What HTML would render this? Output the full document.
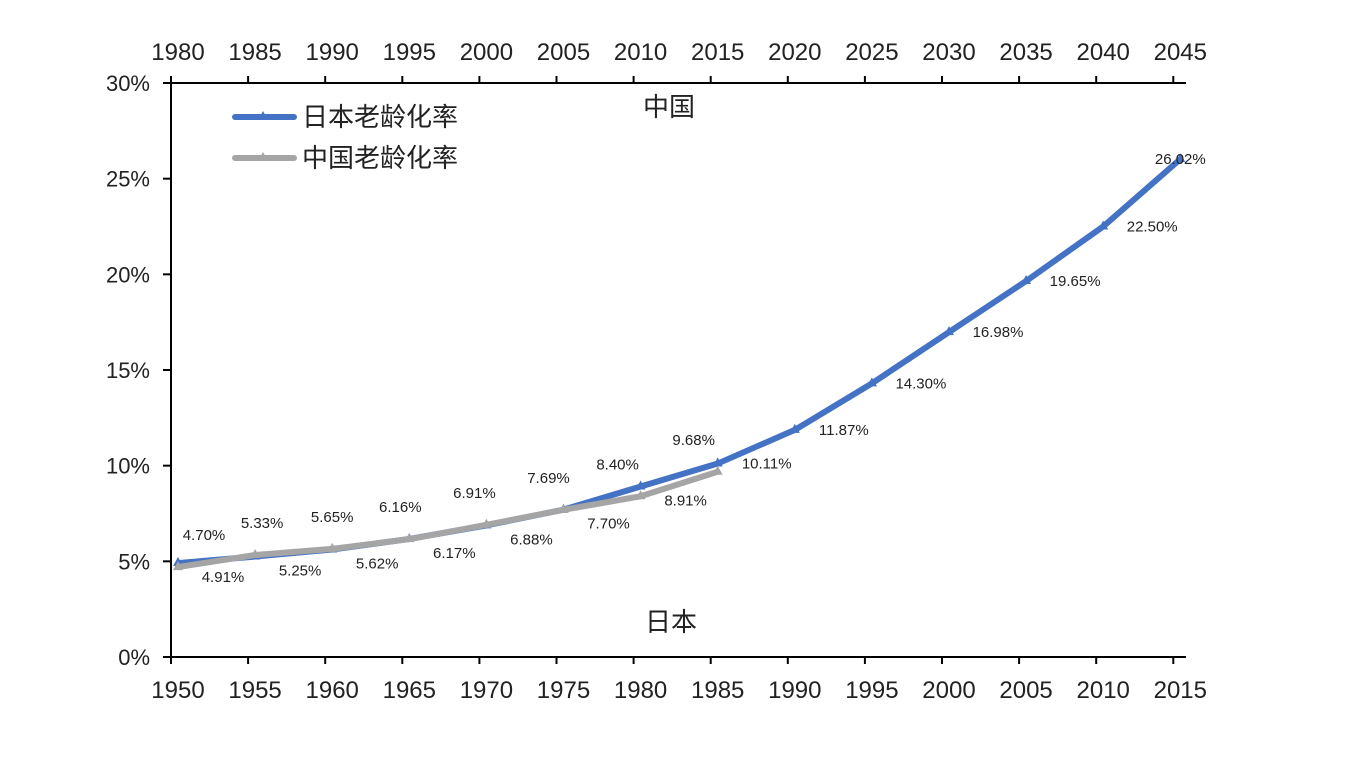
<!DOCTYPE html>
<html><head><meta charset="utf-8"><style>
body{margin:0;background:#fff;}
text{font-family:"Liberation Sans","Noto Sans CJK SC",sans-serif;}
</style></head><body>
<svg id="c" width="1345" height="761"></svg>
<script>
const bottomYears=["1950","1955","1960","1965","1970","1975","1980","1985","1990","1995","2000","2005","2010","2015"];
const topYears=["1980","1985","1990","1995","2000","2005","2010","2015","2020","2025","2030","2035","2040","2045"];
const japan=[4.91,5.25,5.62,6.17,6.88,7.70,8.91,10.11,11.87,14.30,16.98,19.65,22.50,26.02];
const china=[4.70,5.33,5.65,6.16,6.91,7.69,8.40,9.68];
const yTicks=[0,5,10,15,20,25,30];
const NS="http://www.w3.org/2000/svg";
const svg=document.getElementById('c');
const L=171,R=1186,T=83,B=657,STEP=77.1;
const xT=i=>L+STEP*i;
const xP=i=>L+7+STEP*i;
const y=v=>B-(v/30)*(B-T);
function el(tag,attrs,parent){const e=document.createElementNS(NS,tag);for(const k in attrs)e.setAttribute(k,attrs[k]);(parent||svg).appendChild(e);return e;}
function txt(s,x,yy,size,anchor,fill){const t=el('text',{x:x,y:yy,'font-size':size,'text-anchor':anchor||'middle',fill:fill||'#222'});t.textContent=s;return t;}
// axes
let a=el('line',{x1:L,y1:B,x2:R,y2:B,stroke:'#000','stroke-width':2});

a=el('line',{x1:L,y1:T,x2:R,y2:T,stroke:'#000','stroke-width':2});

a=el('line',{x1:L,y1:T,x2:L,y2:B,stroke:'#000','stroke-width':2});

bottomYears.forEach((s,i)=>{
 el('line',{x1:xT(i),y1:B,x2:xT(i),y2:B+7,stroke:'#000','stroke-width':2});
 const t=txt(s,xP(i),698,24);
 
});
topYears.forEach((s,i)=>{
 el('line',{x1:xT(i),y1:T,x2:xT(i),y2:T-7,stroke:'#000','stroke-width':2});
 const t=txt(s,xP(i),60,24);
 
});
yTicks.forEach(v=>{
 el('line',{x1:L-8,y1:y(v),x2:L,y2:y(v),stroke:'#000','stroke-width':2});
 const t=txt(v+'%',150,y(v)+8,22,'end');
 
});
function series(vals,color,name){
 const p=el('polyline',{points:vals.map((v,i)=>xP(i)+','+y(v)).join(' '),fill:'none',stroke:color,'stroke-width':6,'stroke-linejoin':'round'});
 
 vals.forEach((v,i)=>{
  const m=el('polygon',{points:`${xP(i)},${y(v)-6} ${xP(i)-5},${y(v)+3} ${xP(i)+5},${y(v)+3}`,fill:color});
  
 });
}
series(japan,'#4472c4','japan');
series(china,'#a5a5a5','china');
const cdx=[26,7,0,-9,-12,-15,-23,-24];
china.forEach((v,i)=>{
 const t=txt(v.toFixed(2)+'%',xP(i)+cdx[i],y(v)-27,15);
 
});
japan.forEach((v,i)=>{
 let dx=45,dy=14;
 if(i>=7){dx=49;dy=0;}
 if(i==13){dx=0;dy=0;}
 const t=txt(v.toFixed(2)+'%',xP(i)+dx,y(v)+dy+5,15);
 
});
let t=txt('中国',669,116,26);
t=txt('日本',671,631,26);
// legend
const lg=el('g',{});

[['日本老龄化率','#4472c4',117],['中国老龄化率','#a5a5a5',158]].forEach(([s,c,yy])=>{
 el('line',{x1:235,y1:yy,x2:294,y2:yy,stroke:c,'stroke-width':6,'stroke-linecap':'round'},lg);
 el('polygon',{points:`263,${yy-6} 258,${yy+3} 268,${yy+3}`,fill:c},lg);
 const tt=txt(s,302,yy+9,26,'start');lg.appendChild(tt);
 
});
</script>
</body></html>
